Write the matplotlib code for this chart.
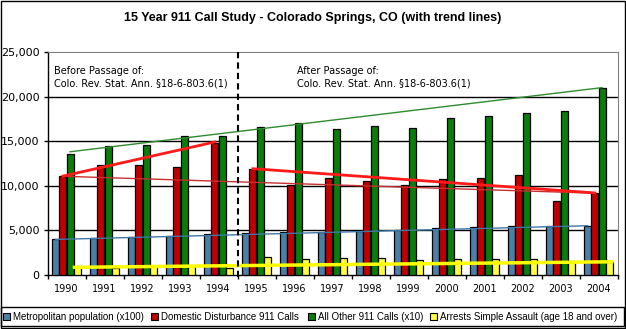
import matplotlib
matplotlib.use("Agg")
import matplotlib.pyplot as plt
from matplotlib.patches import Rectangle
import numpy as np

years = ['1990', '1991', '1992', '1993', '1994', '1995', '1996', '1997',
         '1998', '1999', '2000', '2001', '2002', '2003', '2004']
metro_pop = [3960, 4100, 4180, 4400, 4520, 4630, 4740, 4780, 4960, 5070,
             5220, 5340, 5450, 5450, 5520]
domestic = [11070, 12270, 12350, 12120, 14840, 11820, 10110, 10890, 10560,
            10110, 10780, 10890, 11230, 8320, 9210]
other_calls = [13600, 14470, 14600, 15590, 15590, 16600, 17050, 16370, 16740,
               16490, 17600, 17830, 18160, 18390, 21000]
arrests = [950, 780, 1010, 1010, 780, 1950, 1720, 1830, 1830, 1610,
           1720, 1720, 1720, 1530, 1420]

series_labels = ['Metropolitan population (x100)', 'Domestic Disturbance 911 Calls',
                 'All Other 911 Calls (x10)', 'Arrests Simple Assault (age 18 and over)']

# trend line endpoints (value at first and last year of each segment)
trend_pop = [3960, 5500]
trend_other = [13800, 21000]
trend_dom_all = [11050, 9150]
trend_dom_before = [11070, 14900]
trend_dom_after = [11900, 9180]
trend_arrests = [830, 1450]

before_text = "Before Passage of:\nColo. Rev. Stat. Ann. \u00a718-6-803.6(1)"
after_text = "After Passage of:\nColo. Rev. Stat. Ann. \u00a718-6-803.6(1)"
title = "15 Year 911 Call Study - Colorado Springs, CO (with trend lines)"

c_blue = '#4a7fa8'
c_red = '#c00000'
c_green = '#0a7d0a'
c_yellow = '#ffff40'

W, H = 626, 329
fig = plt.figure(figsize=(W / 100, H / 100), dpi=100)
ax = fig.add_axes([0.0762, 0.165, 0.9105, 0.677])

x = np.arange(len(years))
bw = 0.188
offs = [-0.29, -0.10, 0.09, 0.275]
data = [metro_pop, domestic, other_calls, arrests]
cols = [c_blue, c_red, c_green, c_yellow]
for d, c, o in zip(data, cols, offs):
    ax.bar(x + o, d, width=bw, color=c, edgecolor='black', linewidth=0.9, zorder=3)

# trend lines
ax.plot([x[0] + offs[0], x[-1] + offs[0]], trend_pop, color='#3f78a8', lw=1.0, zorder=5)
ax.plot([x[0] + offs[2], x[-1] + offs[2]], trend_other, color='#2e8b2e', lw=1.0, zorder=5)
ax.plot([x[0] + offs[1], x[-1] + offs[1]], trend_dom_all, color='#c83030', lw=1.0, zorder=5)
ax.plot([x[0] + offs[1], x[4] + offs[1]], trend_dom_before, color='#ff1a1a', lw=2.0, zorder=6)
ax.plot([x[5] + offs[1], x[-1] + offs[1]], trend_dom_after, color='#ff1a1a', lw=2.0, zorder=6)
ax.plot([x[0] + offs[3] - 0.07, x[-1] + offs[3] + 0.07], trend_arrests, color='#ffff00', lw=2.5, zorder=6)

# dashed separator
ax.plot([4.5, 4.5], [-300, 25000], color='black', lw=1.5, ls=(0, (3, 2)),
        zorder=7, clip_on=False)

ax.set_xlim(-0.5, len(years) - 0.5)
ax.set_ylim(0, 25000)
ax.set_yticks([0, 5000, 10000, 15000, 20000, 25000])
ax.set_yticklabels(['0', '5,000', '10,000', '15,000', '20,000', '25,000'], fontsize=8)
ax.set_xticks(x)
ax.set_xticklabels(years, fontsize=7)
ax.set_xticks(np.arange(-0.5, len(years)), minor=True)
ax.tick_params(axis='x', which='major', length=0, pad=7)
ax.tick_params(axis='x', which='minor', length=3, width=1, direction='out')
ax.tick_params(axis='y', length=3, width=1, direction='out', pad=3)

for yv in [5000, 10000, 15000, 20000]:
    ax.axhline(yv, color='black', lw=1.0, zorder=1)

for s in ['top', 'right']:
    ax.spines[s].set_color('#808080')
    ax.spines[s].set_linestyle((0, (1, 1)))
    ax.spines[s].set_linewidth(0.8)
for s in ['left', 'bottom']:
    ax.spines[s].set_color('black')
    ax.spines[s].set_linewidth(1.0)

ax.text(0.011, 0.935, before_text, transform=ax.transAxes, fontsize=7,
        va='top', ha='left', linespacing=1.25)
ax.text(0.437, 0.935, after_text, transform=ax.transAxes, fontsize=7,
        va='top', ha='left', linespacing=1.25)

fig.text(0.5, 1 - 18 / H, title, ha='center', va='center', fontsize=9,
         fontweight='bold', family='Liberation Sans')

# legend drawn manually (box + swatches + labels)
def fx(px):
    return px / W

def fy(py):
    return 1 - py / H

fig.patches.append(Rectangle((fx(1), fy(326)), fx(623), 19 / H, transform=fig.transFigure,
                             fill=False, edgecolor='black', lw=1.0))
sw_x = [3, 151, 308, 430]
for sx, c, lab in zip(sw_x, cols, series_labels):
    fig.patches.append(Rectangle((fx(sx), fy(320)), 7 / W, 7 / H, transform=fig.transFigure,
                                 facecolor=c, edgecolor='black', lw=0.8))
    fig.text(fx(sx + 10), fy(316.5), lab, ha='left', va='center', fontsize=7,
             family='Liberation Sans')

fig.patches.append(Rectangle((0.001, 0.002), 0.997, 0.995, transform=fig.transFigure,
                             fill=False, edgecolor='black', lw=1.0))

fig.savefig('out.png', dpi=100)
